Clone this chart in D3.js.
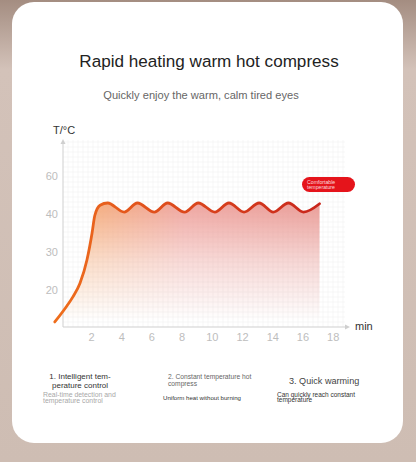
<!DOCTYPE html>
<html><head><meta charset="utf-8">
<script src="https://cdn.jsdelivr.net/npm/d3@7/dist/d3.min.js"></script>
<style>html,body{margin:0;padding:0;background:#cebdb3;}svg{display:block;font-family:"Liberation Sans",Arial,sans-serif;}</style>
</head><body>
<script>
// ---- data ----
const curveMinutes = [-0.4, 0.4, 0.8, 1.27, 1.73, 2.07, 2.25, 2.6, 3.1, 4.2, 5.07, 6.2, 7.07, 8.2, 9.1, 10.2, 11.13, 12.13, 13.13, 14.07, 15.07, 16.07, 17.13];
const curveTemps   = [11.6, 15.8, 18.2, 21.8, 27.9, 35.0, 39.6, 42.3, 42.9, 40.5, 42.9, 40.5, 42.9, 40.5, 42.9, 40.5, 42.9, 40.5, 42.9, 40.5, 42.9, 40.5, 42.7];
const xTickValues = [2, 4, 6, 8, 10, 12, 14, 16, 18];
const yTickValues = [20, 30, 40, 50];
const yTickLabels = ["20", "30", "40", "60"];
const titleText = "Rapid heating warm hot compress";
const subtitleText = "Quickly enjoy the warm, calm tired eyes";
const badgeLines = ["Comfortable", "temperature"];

const W = 416, H = 462;
const svg = d3.select("body").append("svg").attr("width", W).attr("height", H);
const defs = svg.append("defs");

// background
const bg = defs.append("linearGradient").attr("id","bg").attr("x1",0).attr("y1",0).attr("x2",0).attr("y2",1);
bg.append("stop").attr("offset","0").attr("stop-color","#a48d81");
bg.append("stop").attr("offset","0.15").attr("stop-color","#d3c2b9");
bg.append("stop").attr("offset","1").attr("stop-color","#cebdb3");
svg.append("rect").attr("width",W).attr("height",H).attr("fill","url(#bg)");

// card
svg.append("rect").attr("x",12).attr("y",2).attr("width",391).attr("height",441).attr("rx",22).attr("fill","#fff");

// title
svg.append("text").attr("x",209).attr("y",67).attr("text-anchor","middle").attr("font-size",17.1).attr("fill","#222").text(titleText);
svg.append("text").attr("x",201).attr("y",99).attr("text-anchor","middle").attr("font-size",11.1).attr("fill","#666").text(subtitleText);

// scales
const x = d3.scaleLinear().domain([0, 18]).range([60.8, 332.7]);
const y = d3.scaleLinear().domain([20, 40]).range([290, 214]);
const axisX = 63, axisY = 327, gridTop = 140, gridRight = 345;

// grid
const grid = svg.append("g").attr("stroke","#f1f1f1").attr("stroke-width",0.6);
d3.range(axisX + 5, gridRight, 5).forEach(gx => grid.append("line").attr("x1",gx).attr("x2",gx).attr("y1",gridTop).attr("y2",axisY));
d3.range(axisY - 5, gridTop, -5).forEach(gy => grid.append("line").attr("x1",axisX).attr("x2",gridRight).attr("y1",gy).attr("y2",gy));

// gradients
const fillG = defs.append("linearGradient").attr("id","fillG").attr("gradientUnits","userSpaceOnUse")
  .attr("x1",x(1)).attr("y1",0).attr("x2",x(17)).attr("y2",0);
fillG.append("stop").attr("offset","0").attr("stop-color","#f4a060");
fillG.append("stop").attr("offset","0.45").attr("stop-color","#ec9690");
fillG.append("stop").attr("offset","1").attr("stop-color","#e68c86");
const fadeG = defs.append("linearGradient").attr("id","fadeG").attr("gradientUnits","userSpaceOnUse")
  .attr("x1",0).attr("y1",y(43)).attr("x2",0).attr("y2",axisY - 6);
fadeG.append("stop").attr("offset","0").attr("stop-color","#fff").attr("stop-opacity",0.85);
fadeG.append("stop").attr("offset","0.5").attr("stop-color","#fff").attr("stop-opacity",0.35);
fadeG.append("stop").attr("offset","1").attr("stop-color","#fff").attr("stop-opacity",0);
const mask = defs.append("mask").attr("id","fadeM").attr("maskUnits","userSpaceOnUse")
  .attr("x",0).attr("y",0).attr("width",W).attr("height",H);
mask.append("rect").attr("width",W).attr("height",H).attr("fill","url(#fadeG)");
const lineG = defs.append("linearGradient").attr("id","lineG").attr("gradientUnits","userSpaceOnUse")
  .attr("x1",x(0)).attr("y1",0).attr("x2",x(17)).attr("y2",0);
lineG.append("stop").attr("offset","0").attr("stop-color","#ee6d1c");
lineG.append("stop").attr("offset","0.35").attr("stop-color","#e0501c");
lineG.append("stop").attr("offset","1").attr("stop-color","#c8261c");

const pts = curveMinutes.map((m,i) => [m, curveTemps[i]]);
const area = d3.area().curve(d3.curveMonotoneX).x(d => x(d[0])).y1(d => y(d[1])).y0(axisY);
const line = d3.line().curve(d3.curveMonotoneX).x(d => x(d[0])).y(d => y(d[1]));

svg.append("path").datum(pts).attr("d", area).attr("fill","url(#fillG)").attr("mask","url(#fadeM)");

// axes
const ax = svg.append("g").attr("stroke","#cfcfcf").attr("stroke-width",1);
ax.append("line").attr("x1",axisX).attr("x2",axisX).attr("y1",axisY).attr("y2",gridTop+2);
ax.append("line").attr("x1",axisX).attr("x2",347).attr("y1",axisY).attr("y2",axisY);
svg.append("path").attr("d",`M${axisX-2.5},${gridTop+4}L${axisX},${gridTop-1}L${axisX+2.5},${gridTop+4}Z`).attr("fill","#cfcfcf");
svg.append("path").attr("d",`M345,${axisY-2.5}L350,${axisY}L345,${axisY+2.5}Z`).attr("fill","#cfcfcf");

svg.append("path").datum(pts).attr("d", line).attr("fill","none").attr("stroke","url(#lineG)")
  .attr("stroke-width",2.8).attr("stroke-linecap","round").attr("stroke-linejoin","round");

// tick labels
const xAxis = d3.axisBottom(x).tickValues(xTickValues).tickSize(0).tickPadding(6);
const gx = svg.append("g").attr("transform",`translate(0,${axisY})`).call(xAxis);
gx.select(".domain").remove();
gx.selectAll("text").attr("font-size",11).attr("fill","#bdbdbd").attr("font-family","Liberation Sans, Arial, sans-serif");
const yAxis = d3.axisLeft(y).tickValues(yTickValues).tickSize(0).tickPadding(0).tickFormat((d,i) => yTickLabels[i]);
const gy = svg.append("g").attr("transform",`translate(58,0)`).call(yAxis);
gy.select(".domain").remove();
gy.selectAll("text").attr("font-size",11).attr("fill","#bdbdbd").attr("font-family","Liberation Sans, Arial, sans-serif");

svg.append("text").attr("x",53).attr("y",134).attr("font-size",11).attr("fill","#333").text("T/°C");
svg.append("text").attr("x",355).attr("y",330).attr("font-size",11).attr("fill","#333").text("min");

// badge
svg.append("rect").attr("x",302).attr("y",177).attr("width",53).attr("height",15).attr("rx",7.5).attr("fill","#e5141b");
badgeLines.forEach((t,i) => svg.append("text").attr("x",307).attr("y",183.5 + i*5.5).attr("font-size",5.2).attr("fill","#fff").attr("fill-opacity",0.85).text(t));

// bottom features
function lines(arr, xx, y0, dy, size, color, anchor) {
  arr.forEach((t,i) => svg.append("text").attr("x",xx).attr("y",y0 + i*dy).attr("font-size",size).attr("fill",color).attr("text-anchor",anchor||"start").text(t));
}
lines(["1. Intelligent tem-", "perature control"], 80, 379, 9, 8, "#333", "middle");
lines(["Real-time detection and", "temperature control"], 43, 396.5, 6.8, 6.9, "#a8a8a8");
lines(["2. Constant temperature hot", "compress"], 168, 378.5, 7, 6.7, "#666");
lines(["Uniform heat without burning"], 163, 400, 7, 6.1, "#333");
lines(["3. Quick warming"], 289, 384, 9, 9.1, "#444");
lines(["Can quickly reach constant", "temperature"], 277, 396.5, 5.8, 6.5, "#333");
</script>
</body></html>
